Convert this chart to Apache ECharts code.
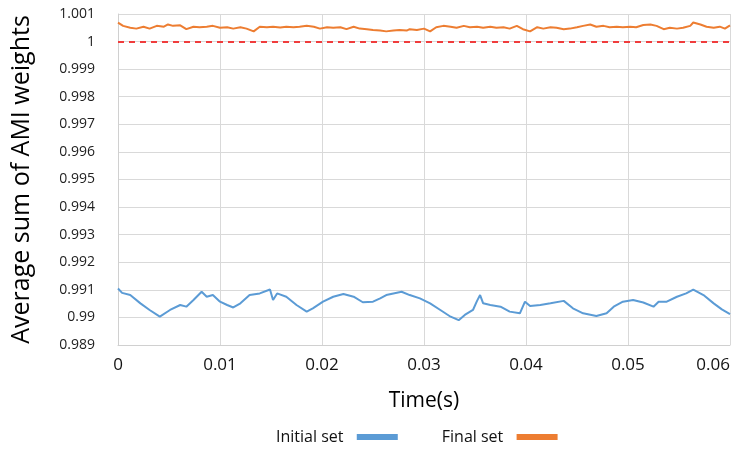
<!DOCTYPE html>
<html>
<head>
<meta charset="utf-8">
<script src="https://cdn.jsdelivr.net/npm/echarts@6/dist/echarts.min.js"></script>
<style>html,body{margin:0;padding:0;background:#fff}#c{width:739px;height:454px}</style>
</head>
<body>
<div id="c"></div>
<script>
var xTicks = [0, 0.01, 0.02, 0.03, 0.04, 0.05, 0.06];
var yTicks = [0.989, 0.99, 0.991, 0.992, 0.993, 0.994, 0.995, 0.996, 0.997, 0.998, 0.999, 1, 1.001];
var referenceLevel = 1;

var initialTime = [0, 0.0004, 0.0012, 0.0022, 0.0031, 0.0041, 0.0051, 0.0061, 0.0067, 0.0074, 0.0082, 0.0087, 0.0093, 0.0100, 0.0107, 0.0113, 0.0120, 0.0129, 0.0139, 0.0149, 0.0152, 0.0156, 0.0165, 0.0175, 0.0185, 0.0191, 0.0201, 0.0211, 0.0221, 0.0231, 0.0240, 0.0250, 0.0257, 0.0263, 0.0270, 0.0278, 0.0286, 0.0296, 0.0306, 0.0316, 0.0325, 0.0334, 0.0340, 0.0348, 0.0352, 0.0355, 0.0358, 0.0365, 0.0375, 0.0384, 0.0394, 0.0399, 0.0404, 0.0414, 0.0424, 0.0437, 0.0446, 0.0456, 0.0469, 0.0479, 0.0486, 0.0495, 0.0505, 0.0515, 0.0525, 0.0530, 0.0538, 0.0548, 0.0557, 0.0564, 0.0574, 0.0584, 0.0592, 0.0600];
var initialValues = [0.99105, 0.99089, 0.99081, 0.99051, 0.99027, 0.99003, 0.99027, 0.99045, 0.99039, 0.99063, 0.99093, 0.99075, 0.99081, 0.99057, 0.99045, 0.99036, 0.99051, 0.99081, 0.99087, 0.99101, 0.99063, 0.99087, 0.99075, 0.99045, 0.99021, 0.99033, 0.99057, 0.99075, 0.99085, 0.99075, 0.99055, 0.99057, 0.99069, 0.99081, 0.99087, 0.99093, 0.99081, 0.99069, 0.99051, 0.99027, 0.99005, 0.98990, 0.99009, 0.99027, 0.99060, 0.99081, 0.99051, 0.99045, 0.99039, 0.99021, 0.99015, 0.99057, 0.99041, 0.99045, 0.99051, 0.99060, 0.99033, 0.99015, 0.99005, 0.99015, 0.99039, 0.99057, 0.99063, 0.99054, 0.99039, 0.99057, 0.99057, 0.99075, 0.99087, 0.99101, 0.99081, 0.99051, 0.99029, 0.99012];

var finalTime = [0, 0.0005, 0.0012, 0.0018, 0.0025, 0.0031, 0.0038, 0.0045, 0.0049, 0.0054, 0.0061, 0.0067, 0.0074, 0.0080, 0.0087, 0.0093, 0.0100, 0.0107, 0.0113, 0.0120, 0.0126, 0.0133, 0.0139, 0.0146, 0.0152, 0.0159, 0.0165, 0.0172, 0.0178, 0.0185, 0.0192, 0.0198, 0.0205, 0.0211, 0.0218, 0.0224, 0.0231, 0.0237, 0.0244, 0.0250, 0.0257, 0.0263, 0.0270, 0.0276, 0.0283, 0.0286, 0.0293, 0.0300, 0.0306, 0.0312, 0.0319, 0.0326, 0.0332, 0.0339, 0.0345, 0.0352, 0.0358, 0.0365, 0.0371, 0.0378, 0.0384, 0.0391, 0.0397, 0.0404, 0.0411, 0.0417, 0.0424, 0.0430, 0.0437, 0.0443, 0.0450, 0.0456, 0.0463, 0.0469, 0.0476, 0.0482, 0.0489, 0.0495, 0.0502, 0.0508, 0.0515, 0.0522, 0.0528, 0.0535, 0.0541, 0.0548, 0.0554, 0.0561, 0.0564, 0.0571, 0.0577, 0.0584, 0.0590, 0.0595, 0.0600];
var finalValues = [1.00069, 1.00057, 1.00050, 1.00047, 1.00054, 1.00047, 1.00057, 1.00054, 1.00062, 1.00057, 1.00059, 1.00045, 1.00054, 1.00052, 1.00054, 1.00057, 1.00050, 1.00052, 1.00047, 1.00052, 1.00047, 1.00037, 1.00054, 1.00052, 1.00054, 1.00051, 1.00054, 1.00052, 1.00054, 1.00057, 1.00054, 1.00047, 1.00052, 1.00050, 1.00052, 1.00045, 1.00054, 1.00047, 1.00045, 1.00042, 1.00040, 1.00037, 1.00040, 1.00042, 1.00040, 1.00045, 1.00042, 1.00047, 1.00037, 1.00052, 1.00057, 1.00054, 1.00050, 1.00057, 1.00052, 1.00054, 1.00050, 1.00054, 1.00050, 1.00052, 1.00047, 1.00057, 1.00045, 1.00037, 1.00052, 1.00047, 1.00052, 1.00050, 1.00045, 1.00047, 1.00052, 1.00057, 1.00062, 1.00054, 1.00057, 1.00052, 1.00054, 1.00052, 1.00054, 1.00052, 1.00060, 1.00062, 1.00057, 1.00045, 1.00050, 1.00047, 1.00050, 1.00057, 1.00069, 1.00062, 1.00054, 1.00050, 1.00054, 1.00047, 1.00059];

function zip(a, b) { return a.map(function (t, i) { return [t, b[i]]; }); }

var chart = echarts.init(document.getElementById('c'), null, { renderer: 'canvas' });
var fontFam = '"Open Sans", "Noto Sans", sans-serif';
chart.setOption({
  animation: false,
  textStyle: { fontFamily: fontFam },
  grid: { left: 118, right: 9, top: 14, bottom: 109, containLabel: false, outerBoundsMode: 'none' },
  legend: {
    data: ['Initial set', 'Final set'],
    bottom: 4,
    left: 271,
    align: 'right',
    itemWidth: 41,
    itemHeight: 6,
    itemGap: 44,
    icon: 'rect',
    formatter: function (n) { return n + '  '; },
    textStyle: { fontSize: 16, color: '#111', fontFamily: fontFam }
  },
  xAxis: {
    type: 'value',
    min: xTicks[0],
    max: xTicks[xTicks.length - 1],
    interval: 0.01,
    name: 'Time(s)',
    nameLocation: 'middle',
    nameGap: 46,
    nameTextStyle: { fontSize: 21, color: '#000', fontFamily: fontFam },
    axisLine: { lineStyle: { color: '#d0d0d0', width: 1 } },
    axisTick: { show: false },
    axisLabel: { fontSize: 17, color: '#111', margin: 12, alignMaxLabel: 'right', formatter: function (v) { return String(+v.toFixed(2)); } },
    splitLine: { show: true, lineStyle: { color: '#d9d9d9', width: 1 } }
  },
  yAxis: {
    type: 'value',
    min: yTicks[0],
    max: yTicks[yTicks.length - 1],
    interval: 0.001,
    name: 'Average sum of AMI weights',
    nameLocation: 'middle',
    nameGap: 84,
    nameTextStyle: { fontSize: 25, color: '#000', fontFamily: fontFam },
    axisLine: { show: true, lineStyle: { color: '#d0d0d0', width: 1 } },
    axisTick: { show: false },
    axisLabel: { fontSize: 14, color: '#222', margin: 23, formatter: function (v) { return String(+v.toFixed(3)); } },
    splitLine: { show: true, lineStyle: { color: '#d9d9d9', width: 1 } }
  },
  series: [
    {
      name: 'Initial set',
      type: 'line',
      data: zip(initialTime, initialValues),
      showSymbol: false,
      symbol: 'none',
      itemStyle: { color: '#5b9bd5' },
      lineStyle: { color: '#5b9bd5', width: 2 },
      markLine: {
        silent: true,
        symbol: ['none', 'none'],
        label: { show: false },
        lineStyle: { color: '#f03c3c', type: [6, 5], width: 2 },
        data: [{ yAxis: referenceLevel }]
      }
    },
    {
      name: 'Final set',
      type: 'line',
      data: zip(finalTime, finalValues),
      showSymbol: false,
      symbol: 'none',
      itemStyle: { color: '#ed7d31' },
      lineStyle: { color: '#ed7d31', width: 2 }
    }
  ]
});
</script>
</body>
</html>
